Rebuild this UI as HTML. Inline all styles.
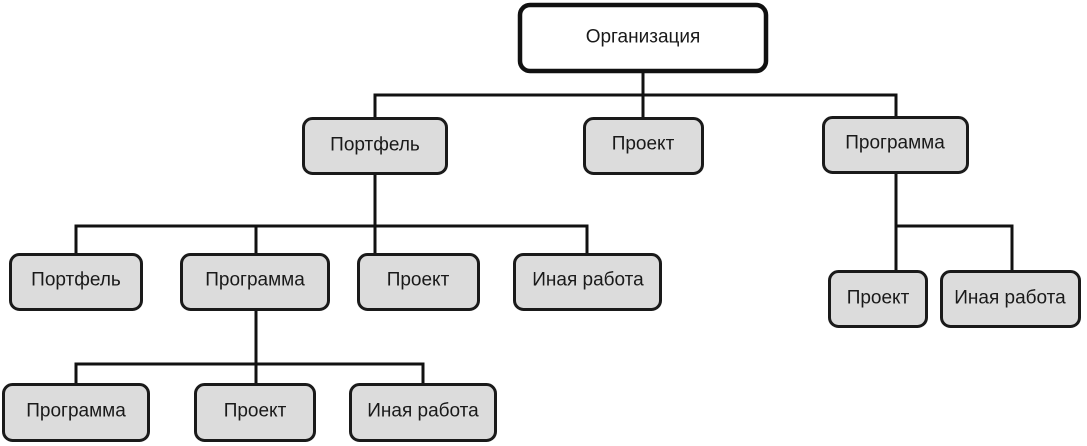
<!DOCTYPE html>
<html><head><meta charset="utf-8"><style>
html,body{margin:0;padding:0;background:#fff;}
svg{display:block;}
text{font-family:"Liberation Sans",Arial,sans-serif;font-size:19px;fill:#1a1a1a;text-anchor:middle;dominant-baseline:central;}
</style></head><body>
<svg width="1087" height="446" viewBox="0 0 1087 446" xmlns="http://www.w3.org/2000/svg">
<g stroke="#111" stroke-width="3" fill="none" stroke-linecap="square">
<line x1="643" y1="72" x2="643" y2="117"/>
<line x1="375" y1="95" x2="896" y2="95"/>
<line x1="375" y1="95" x2="375" y2="117"/>
<line x1="896" y1="95" x2="896" y2="116"/>
<line x1="375" y1="175" x2="375" y2="253"/>
<line x1="76" y1="226" x2="587" y2="226"/>
<line x1="76" y1="226" x2="76" y2="253"/>
<line x1="256" y1="226" x2="256" y2="253"/>
<line x1="587" y1="226" x2="587" y2="253"/>
<line x1="256" y1="311" x2="256" y2="383"/>
<line x1="76" y1="364" x2="423" y2="364"/>
<line x1="76" y1="364" x2="76" y2="383"/>
<line x1="423" y1="364" x2="423" y2="383"/>
<line x1="896" y1="174" x2="896" y2="270"/>
<line x1="896" y1="226" x2="1012" y2="226"/>
<line x1="1012" y1="226" x2="1012" y2="270"/>
</g>
<rect x="520" y="5" width="246" height="66" rx="10" fill="#fff" stroke="#111" stroke-width="4.5"/>
<text x="643" y="37">Организация</text>
<g fill="#dcdcdc" stroke="#1a1a1a" stroke-width="3">
<rect x="303.5" y="118.5" width="143" height="55" rx="9"/>
<rect x="584.5" y="118.5" width="118" height="55" rx="9"/>
<rect x="823.5" y="117.5" width="144" height="55" rx="9"/>
<rect x="10.5" y="254.5" width="131" height="55" rx="9"/>
<rect x="181.5" y="254.5" width="147" height="55" rx="9"/>
<rect x="358.5" y="254.5" width="120" height="55" rx="9"/>
<rect x="514.5" y="254.5" width="146" height="55" rx="9"/>
<rect x="3.5" y="384.5" width="145" height="56" rx="9"/>
<rect x="195.5" y="384.5" width="119" height="56" rx="9"/>
<rect x="350.5" y="384.5" width="145" height="56" rx="9"/>
<rect x="829.5" y="271.5" width="97" height="55" rx="9"/>
<rect x="941.5" y="271.5" width="138" height="55" rx="9"/>
</g>
<text x="375" y="145">Портфель</text>
<text x="643" y="144">Проект</text>
<text x="895" y="143">Программа</text>
<text x="76" y="280">Портфель</text>
<text x="255" y="280">Программа</text>
<text x="418" y="280">Проект</text>
<text x="588" y="280">Иная работа</text>
<text x="76" y="411">Программа</text>
<text x="255" y="411">Проект</text>
<text x="423" y="411">Иная работа</text>
<text x="878" y="298">Проект</text>
<text x="1010" y="298">Иная работа</text>
</svg>
</body></html>
